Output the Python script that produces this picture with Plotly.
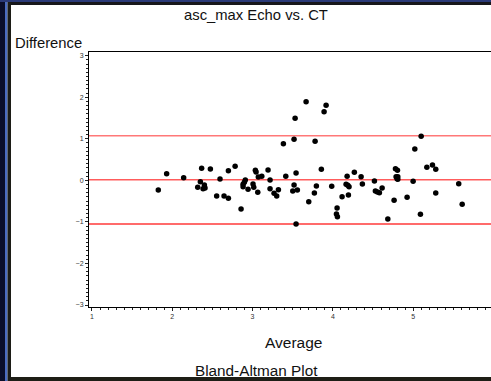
import plotly.graph_objects as go

avg = [1.826, 1.930, 2.142, 2.366, 2.350, 2.317, 2.400, 2.384, 2.408, 2.475,
       2.595, 2.553, 2.645, 2.699, 2.699, 2.783, 2.857, 2.910, 2.898, 2.882,
       2.882, 2.944, 3.006, 3.015, 3.035, 3.044, 3.072, 3.115, 3.065, 3.193,
       3.218, 3.218, 3.268, 3.301, 3.322, 3.384, 3.414, 3.517, 3.530, 3.542,
       3.517, 3.501, 3.558, 3.542, 3.667, 3.700, 3.779, 3.770, 3.795, 3.857,
       3.891, 3.916, 3.986, 4.178, 4.165, 4.186, 4.202, 4.194, 4.115, 4.053,
       4.045, 4.057, 4.268, 4.352, 4.368, 4.518, 4.530, 4.555, 4.580, 4.614,
       4.685, 4.763, 4.780, 4.805, 4.788, 4.809, 4.800, 4.809, 4.925, 5.000,
       5.021, 5.100, 5.091, 5.171, 5.241, 5.282, 5.282, 5.568, 5.611]
diff = [-0.232, 0.160, 0.064, 0.290, -0.032, -0.168, -0.112, -0.200, -0.184, 0.273,
        0.032, -0.377, -0.377, -0.433, 0.233, 0.338, -0.690, 0.008, -0.048, -0.096,
        -0.152, -0.216, -0.088, -0.168, 0.241, 0.200, 0.080, 0.097, -0.288, 0.249,
        0.008, -0.200, -0.312, -0.377, -0.225, 0.882, 0.097, 0.988, 1.493, 0.177,
        -0.112, -0.256, -0.232, -1.051, 1.893, -0.513, 0.940, -0.305, -0.136, 0.265,
        1.653, 1.806, -0.144, 0.097, -0.096, -0.120, -0.152, -0.353, -0.393, -0.665,
        -0.810, -0.874, 0.193, 0.089, -0.088, -0.016, -0.256, -0.280, -0.296, -0.184,
        -0.930, -0.481, 0.281, 0.241, 0.089, 0.089, 0.040, 0.024, -0.409, -0.024,
        0.754, 1.059, -0.818, 0.313, 0.369, 0.265, -0.305, -0.080, -0.577]

mean_diff = 0.012
upper_loa = 1.075
lower_loa = -1.052
ref_lines = [upper_loa, mean_diff, lower_loa]
ref_colors = ["#ff7878", "#ff5c5c", "#ff3a3a"]

x_ticks = [1, 2, 3, 4, 5]
y_ticks = [-3, -2, -1, 0, 1, 2, 3]

W, H = 491, 381
L, R, T, B = 89, 0, 52, 74
PW, PH = W - L - R, H - T - B

def px(xp):
    return (xp - L) / PW

def py(yp):
    return (H - B - yp) / PH

fig = go.Figure()
fig.add_trace(go.Scatter(x=avg, y=diff, mode="markers",
                         marker=dict(color="black", size=5.5),
                         showlegend=False, cliponaxis=False))

for v, c in zip(ref_lines, ref_colors):
    fig.add_shape(type="line", xref="paper", x0=0, x1=1, yref="y", y0=v, y1=v,
                  line=dict(color=c, width=1.5), layer="below")

axis_common = dict(showgrid=False, zeroline=False, showline=True,
                   linecolor="black", linewidth=1, ticks="outside", ticklen=3,
                   tickcolor="#222", tickfont=dict(size=7, color="#333",
                                                   family="Liberation Sans"))
fig.update_xaxes(range=[0.963, 5.97], tickvals=x_ticks, mirror=True,
                 minor=dict(ticks="outside", ticklen=2, dtick=0.1,
                            tickcolor="#222", showgrid=False),
                 **axis_common)
fig.update_yaxes(range=[-3.048, 3.089], tickvals=y_ticks,
                 minor=dict(ticks="outside", ticklen=2, dtick=0.1,
                            tickcolor="#222", showgrid=False),
                 **axis_common)

# window frame
frame = [
    (0, 5, 0, H, "#0a0e2a"),
    (5, 7.5, 0, H, "#4a6cc0"),
    (7.5, 11, 0, H, "#1c1c16"),
    (0, W, 0, 2, "#2a3a78"),
    (11, W, 2, 5, "#17171b"),
    (11, W, 377, H, "#1e1e16"),
]
for x0, x1, y0, y1, c in frame:
    fig.add_shape(type="rect", xref="paper", yref="paper",
                  x0=px(x0), x1=px(x1), y0=py(y0), y1=py(y1),
                  line=dict(width=0), fillcolor=c, layer="above")

font = dict(family="Liberation Sans", color="#111")
ann = [
    ("asc_max Echo vs. CT", 256, 15, 14.8),
    ("Difference", 48, 43.5, 14.8),
    ("Average", 293, 342, 15.5),
    ("Bland-Altman Plot", 256, 370, 15.3),
]
for text, x, y, s in ann:
    fig.add_annotation(text=text, xref="paper", yref="paper", x=px(x), y=py(y),
                       xanchor="center", yanchor="middle", showarrow=False,
                       font=dict(size=s, **font))

fig.update_layout(width=W, height=H, margin=dict(l=L, r=R, t=T, b=B),
                  paper_bgcolor="white", plot_bgcolor="white")

fig.write_html("out.html")
